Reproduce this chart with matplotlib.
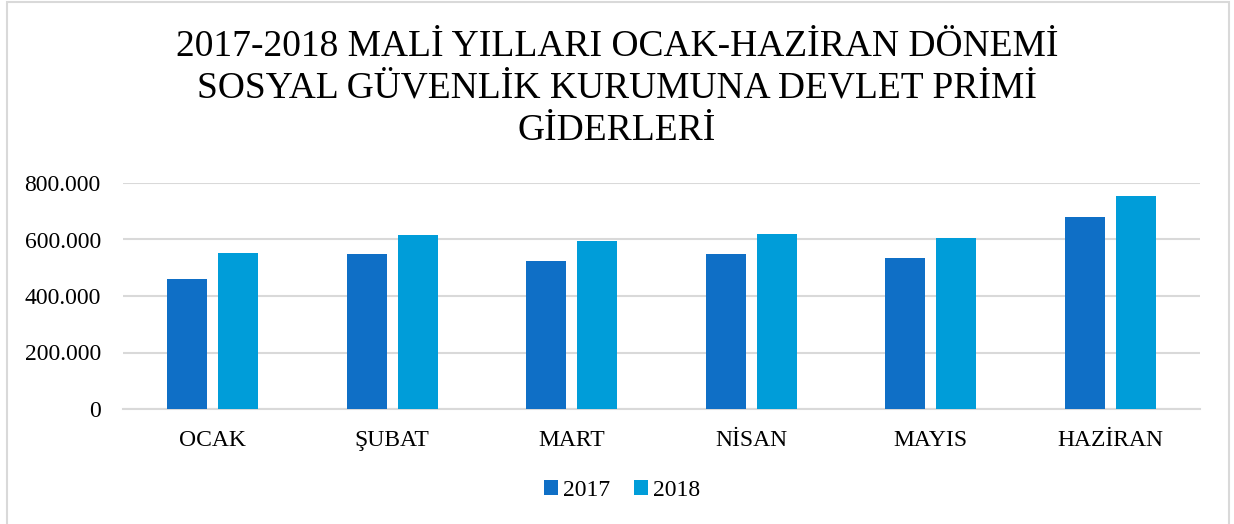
import numpy as np
import matplotlib

matplotlib.use("Agg")
import matplotlib.pyplot as plt
from matplotlib.patches import Rectangle
from matplotlib.ticker import FuncFormatter

months = ["OCAK", "ŞUBAT", "MART", "NİSAN", "MAYIS", "HAZİRAN"]
values_2017 = [460000, 549000, 524000, 547000, 535000, 681000]
values_2018 = [552000, 617000, 595000, 619000, 607000, 754000]
series_labels = ["2017", "2018"]
title_str = "2017-2018 MALİ YILLARI OCAK-HAZİRAN DÖNEMİ\nSOSYAL GÜVENLİK KURUMUNA DEVLET PRİMİ\nGİDERLERİ"

plt.rcParams["font.family"] = ["Liberation Serif", "DejaVu Serif"]

fig = plt.figure(figsize=(12.34, 5.24), dpi=100)
ax = fig.add_axes([123 / 1234, 1 - 409 / 524, (1200 - 123) / 1234, (409 - 183) / 524])

x = np.arange(len(months))
bar_w = 0.223
gap = 0.06
ax.bar(x - (bar_w + gap) / 2, values_2017, bar_w, color="#0F6FC6", label=series_labels[0], zorder=3)
ax.bar(x + (bar_w + gap) / 2, values_2018, bar_w, color="#009DD9", label=series_labels[1], zorder=3)

ax.set_xlim(-0.5, len(months) - 0.5)
ax.set_ylim(0, 800000)
ax.set_yticks(np.arange(0, 800001, 200000))
# turkish style thousands separator
ax.yaxis.set_major_formatter(FuncFormatter(lambda v, p: "{:,.0f}".format(v).replace(",", ".")))
ax.set_xticks(x)
ax.set_xticklabels(months)
ax.tick_params(axis="both", length=0, labelsize=17, colors="black")
ax.tick_params(axis="y", pad=16)
ax.tick_params(axis="x", pad=15)

ax.grid(axis="y", color="#D9D9D9", linewidth=1.5, zorder=0)
for s in ["top", "right", "left"]:
    ax.spines[s].set_visible(False)
ax.spines["bottom"].set_color("#D9D9D9")
ax.spines["bottom"].set_linewidth(1.5)

fig.text(0.5, 1 - 29 / 524, title_str, ha="center", va="top", fontsize=27, linespacing=1.3)

leg = fig.legend(loc="center", bbox_to_anchor=(622 / 1234, 1 - 490 / 524), ncol=2, frameon=False,
                 fontsize=17, handlelength=0.6, handleheight=0.6, handletextpad=0.2, columnspacing=1.0)

# light gray chart border
fig.patches.append(Rectangle((7 / 1234, -0.05), 1222 / 1234, 1.05 - 2 / 524, transform=fig.transFigure,
                             fill=False, edgecolor="#D9D9D9", linewidth=1.5))

plt.savefig("out.png", dpi=100)
